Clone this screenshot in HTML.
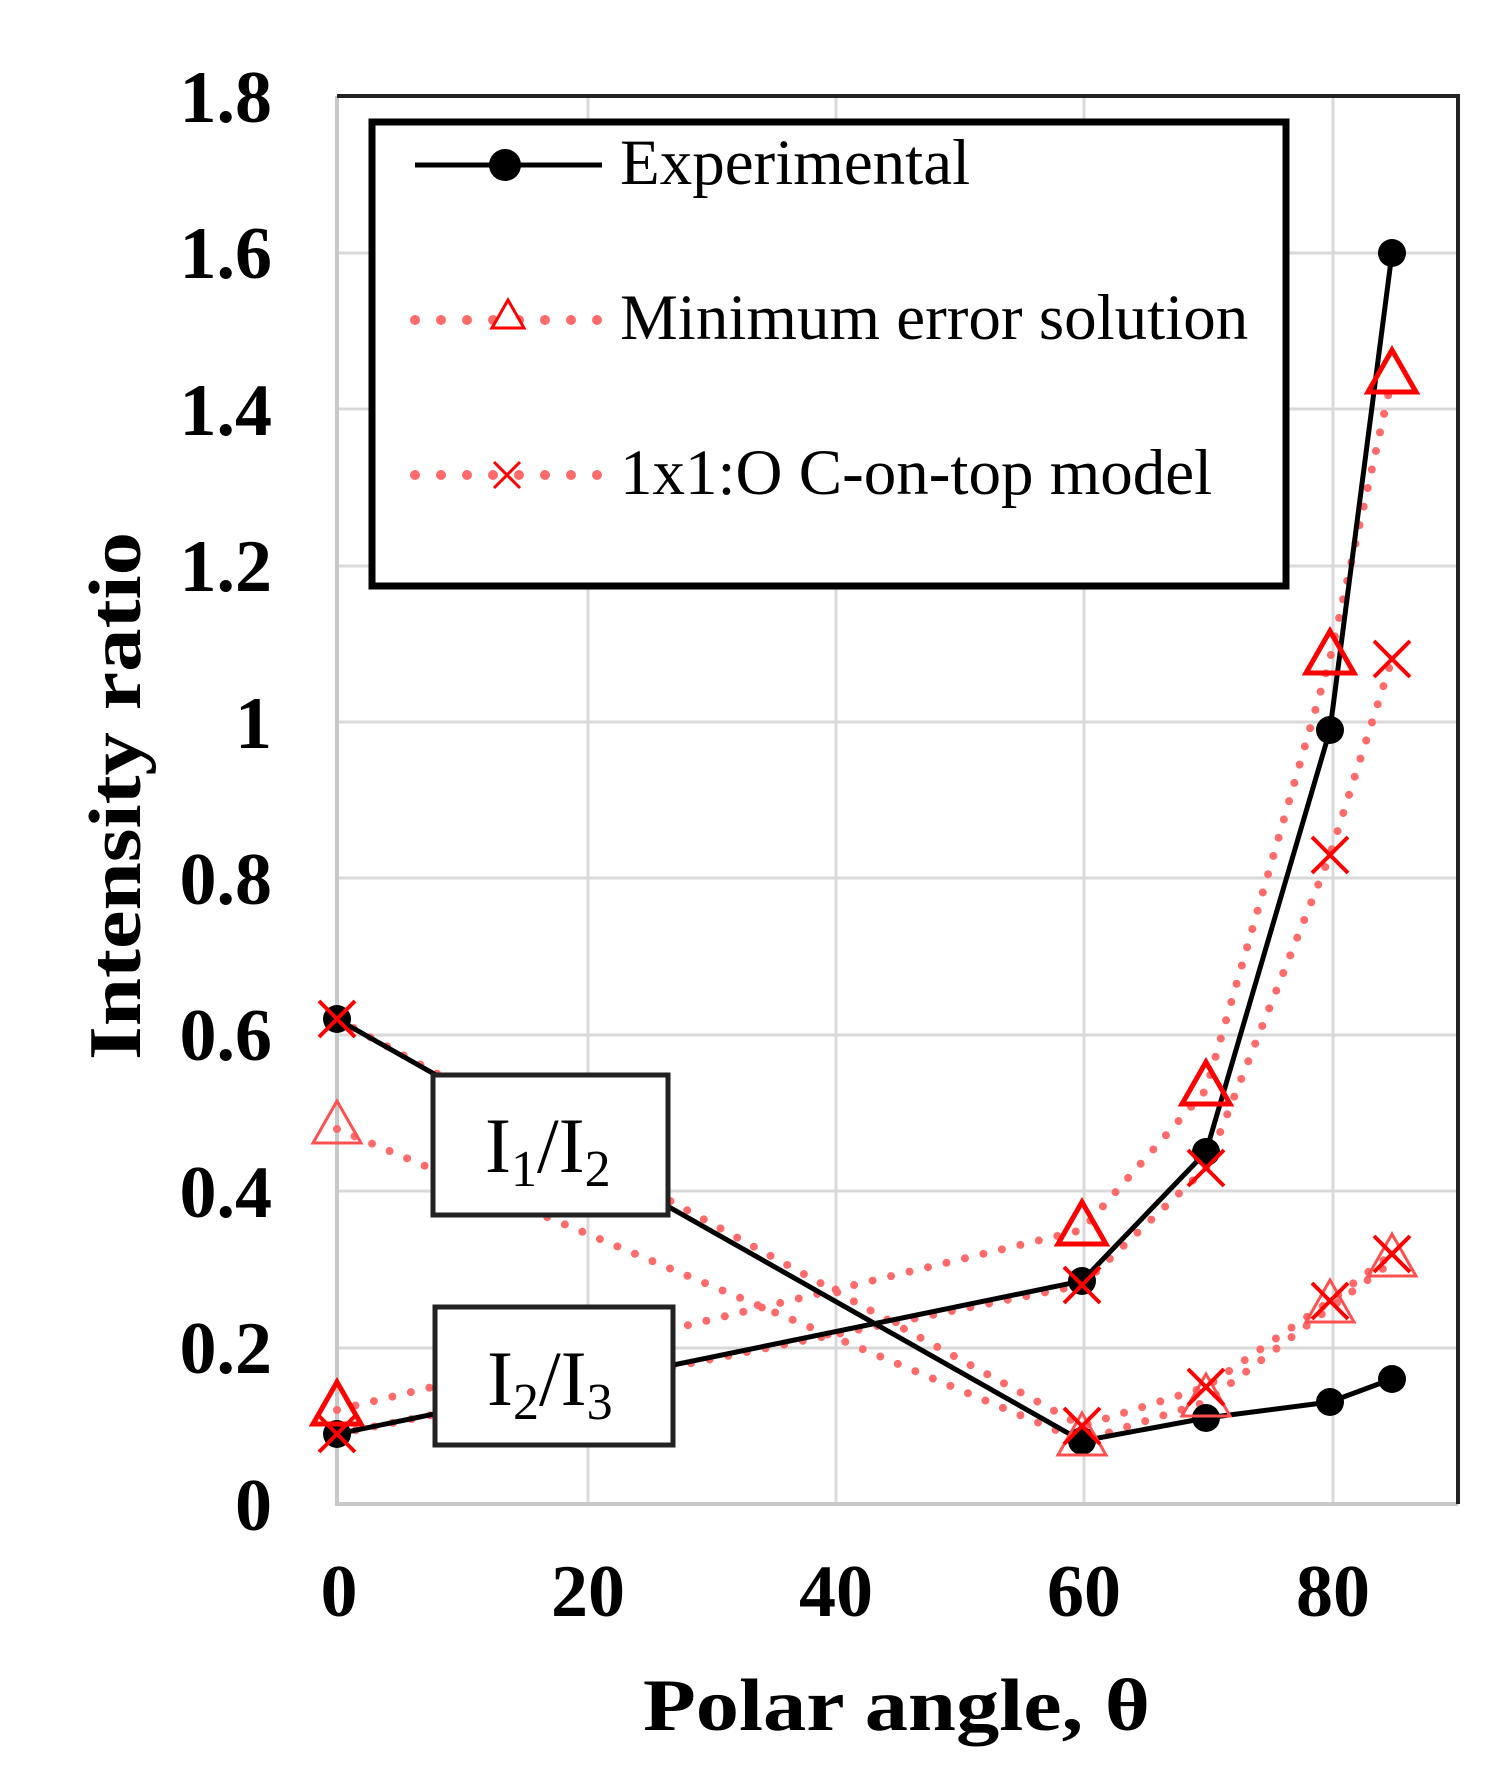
<!DOCTYPE html>
<html><head><meta charset="utf-8"><style>
html,body{margin:0;padding:0;background:#fff;}
svg{display:block;}
.tk{font-family:"Liberation Serif",serif;font-weight:bold;font-size:74px;fill:#000;}
.lg{font-family:"Liberation Serif",serif;font-size:65px;fill:#000;}
.bx{font-family:"Liberation Serif",serif;font-size:78px;fill:#000;}
</style></head><body>
<svg width="1508" height="1784" viewBox="0 0 1508 1784" xmlns="http://www.w3.org/2000/svg">
<rect width="1508" height="1784" fill="#fff"/>
<g stroke="#d9d9d9" stroke-width="3">
<line x1="588" y1="96" x2="588" y2="1504"/>
<line x1="836" y1="96" x2="836" y2="1504"/>
<line x1="1084" y1="96" x2="1084" y2="1504"/>
<line x1="1333" y1="96" x2="1333" y2="1504"/>
<line x1="337" y1="1348" x2="1458" y2="1348"/>
<line x1="337" y1="1191" x2="1458" y2="1191"/>
<line x1="337" y1="1035" x2="1458" y2="1035"/>
<line x1="337" y1="878" x2="1458" y2="878"/>
<line x1="337" y1="722" x2="1458" y2="722"/>
<line x1="337" y1="566" x2="1458" y2="566"/>
<line x1="337" y1="409" x2="1458" y2="409"/>
<line x1="337" y1="253" x2="1458" y2="253"/>
</g>
<line x1="337" y1="96" x2="337" y2="1504" stroke="#c8c8c8" stroke-width="4"/>
<line x1="335" y1="1504" x2="1458" y2="1504" stroke="#c8c8c8" stroke-width="4"/>
<polyline points="337,96 1458,96 1458,1504" fill="none" stroke="#222" stroke-width="4"/>
<g fill="none" stroke="#ff6b6b" stroke-width="8" stroke-linecap="round" stroke-dasharray="0 19">
<polyline points="337,1129 1082,1441 1206,1402 1330,1308 1392,1262"/>
<polyline points="337,1019 1082,1426 1206,1387 1330,1301 1392,1254"/>
<polyline points="337,1410 1082,1230 1206,1090 1330,659 1392,378"/>
<polyline points="337,1434 1082,1285 1206,1168 1330,855 1392,659"/>
</g>
<g fill="none" stroke="#000" stroke-width="5">
<polyline points="337,1019 1082,1441 1206,1418 1330,1402 1392,1379"/>
<polyline points="337,1434 1082,1281 1206,1152 1330,730 1392,253"/>
</g>
<g fill="#000">
<circle cx="337" cy="1019" r="14"/><circle cx="1082" cy="1441" r="14"/><circle cx="1206" cy="1418" r="14"/><circle cx="1330" cy="1402" r="14"/><circle cx="1392" cy="1379" r="14"/>
<circle cx="337" cy="1434" r="14"/><circle cx="1082" cy="1281" r="14"/><circle cx="1206" cy="1152" r="14"/><circle cx="1330" cy="730" r="14"/><circle cx="1392" cy="253" r="14"/>
</g>
<g fill="none" stroke="#f00" stroke-width="5">
<path d="M1082,1202 l-24,42 h48z M1206,1062 l-24,42 h48z M1330,631 l-24,42 h48z M1392,350 l-24,42 h48z M337,1382 l-24,42 h48z"/>
</g>
<g fill="none" stroke="#ff5050" stroke-width="3">
<path d="M337,1101 l-24,42 h48z M1082,1413 l-24,42 h48z M1206,1374 l-24,42 h48z M1330,1280 l-24,42 h48z M1392,1234 l-24,42 h48z"/>
</g>
<g stroke="#f00" stroke-width="4">
<path d="M319,1001 l36,36 m0,-36 l-36,36 M1064,1408 l36,36 m0,-36 l-36,36 M1188,1369 l36,36 m0,-36 l-36,36 M1312,1283 l36,36 m0,-36 l-36,36 M1374,1236 l36,36 m0,-36 l-36,36"/>
<path d="M319,1416 l36,36 m0,-36 l-36,36 M1064,1267 l36,36 m0,-36 l-36,36 M1188,1150 l36,36 m0,-36 l-36,36 M1312,837 l36,36 m0,-36 l-36,36 M1374,641 l36,36 m0,-36 l-36,36"/>
</g>
<rect x="433" y="1075" width="235" height="140" fill="#fff" stroke="#222" stroke-width="5"/>
<text class="bx" x="485" y="1172">I<tspan font-size="52" dy="14">1</tspan><tspan dy="-14">/I</tspan><tspan font-size="52" dy="14">2</tspan></text>
<rect x="435" y="1307" width="238" height="138" fill="#fff" stroke="#222" stroke-width="5"/>
<text class="bx" x="487" y="1405">I<tspan font-size="52" dy="14">2</tspan><tspan dy="-14">/I</tspan><tspan font-size="52" dy="14">3</tspan></text>
<rect x="372" y="122" width="914" height="464" fill="#fff" stroke="#000" stroke-width="7"/>
<line x1="415" y1="165" x2="602" y2="165" stroke="#000" stroke-width="5"/>
<circle cx="505" cy="165" r="16" fill="#000"/>
<text class="lg" x="620" y="184">Experimental</text>
<line x1="415" y1="320" x2="600" y2="320" stroke="#ff6b6b" stroke-width="10" stroke-linecap="round" stroke-dasharray="0 26"/>
<path d="M508,300 l-16,28 h32z" fill="#fff" stroke="#f00" stroke-width="3"/>
<text class="lg" x="620" y="339">Minimum error solution</text>
<line x1="415" y1="475" x2="600" y2="475" stroke="#ff6b6b" stroke-width="10" stroke-linecap="round" stroke-dasharray="0 26"/>
<path d="M494,462 l26,26 m0,-26 l-26,26" stroke="#f00" stroke-width="3"/>
<text class="lg" x="620" y="494">1x1:O C-on-top model</text>
<g class="tk" text-anchor="end">
<text x="272" y="1530">0</text>
<text x="272" y="1373">0.2</text>
<text x="272" y="1217">0.4</text>
<text x="272" y="1060">0.6</text>
<text x="272" y="904">0.8</text>
<text x="272" y="748">1</text>
<text x="272" y="591">1.2</text>
<text x="272" y="435">1.4</text>
<text x="272" y="278">1.6</text>
<text x="272" y="122">1.8</text>
</g>
<g class="tk" text-anchor="middle">
<text x="339" y="1616">0</text>
<text x="588" y="1616">20</text>
<text x="836" y="1616">40</text>
<text x="1084" y="1616">60</text>
<text x="1333" y="1616">80</text>
</g>
<text class="tk" font-size="84" x="643" y="1730" textLength="507" lengthAdjust="spacingAndGlyphs">Polar angle, θ</text>
<text class="tk" font-size="84" transform="translate(140,1060) rotate(-90)" textLength="528" lengthAdjust="spacingAndGlyphs">Intensity ratio</text>
</svg>
</body></html>
